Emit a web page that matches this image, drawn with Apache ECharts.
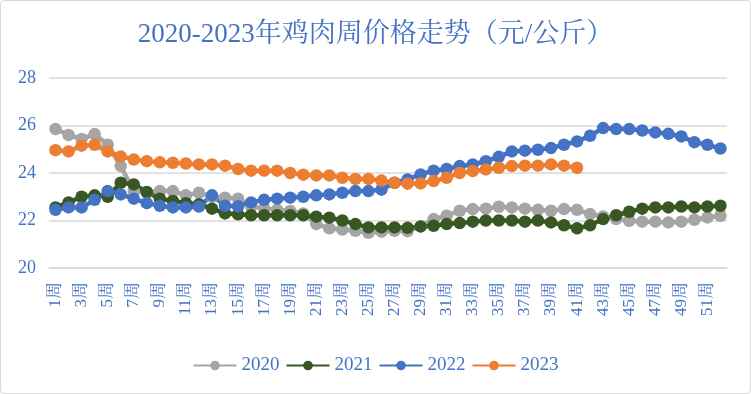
<!DOCTYPE html>
<html><head><meta charset="utf-8">
<script src="https://cdn.jsdelivr.net/npm/echarts@6/dist/echarts.min.js"></script>
<style>html,body{margin:0;padding:0;background:#fff;}#c{width:749px;height:392px;border:1px solid #d9d9d9;border-radius:4px;}</style>
</head><body><div id="c"></div>
<script>
const weeks = [];
for (let i = 1; i <= 52; i++) weeks.push(i + '周');
const yTicks = [20, 22, 24, 26, 28];
const s2020 = [25.85,25.6,25.43,25.64,25.19,24.29,23.24,23.17,23.24,23.24,23.06,23.17,23.0,22.96,22.92,22.6,22.5,22.45,22.4,22.3,21.85,21.67,21.62,21.57,21.48,21.53,21.57,21.55,21.75,22.06,22.2,22.41,22.48,22.5,22.58,22.55,22.5,22.45,22.41,22.48,22.45,22.27,22.17,22.06,21.99,21.95,21.95,21.92,21.95,22.03,22.13,22.2];
const s2021 = [22.55,22.76,23.0,23.06,23.0,23.59,23.52,23.2,22.92,22.82,22.73,22.68,22.5,22.3,22.26,22.22,22.22,22.22,22.22,22.22,22.16,22.12,22.0,21.85,21.71,21.71,21.71,21.69,21.75,21.78,21.85,21.89,21.95,22.0,22.0,22.0,21.95,22.0,21.92,21.8,21.67,21.8,22.06,22.22,22.37,22.5,22.55,22.55,22.59,22.55,22.59,22.62];
const s2022 = [22.45,22.55,22.55,22.87,23.24,23.1,22.92,22.73,22.62,22.55,22.55,22.59,23.06,22.62,22.6,22.76,22.87,22.92,22.96,23.0,23.06,23.1,23.17,23.24,23.24,23.3,23.59,23.73,23.94,24.1,24.17,24.29,24.36,24.5,24.68,24.91,24.94,24.98,25.05,25.19,25.33,25.57,25.89,25.85,25.85,25.79,25.71,25.65,25.54,25.3,25.19,25.03];
const s2023 = [24.96,24.91,25.15,25.19,24.91,24.7,24.57,24.5,24.45,24.43,24.4,24.36,24.36,24.31,24.17,24.1,24.1,24.1,24.0,23.93,23.9,23.9,23.8,23.75,23.75,23.68,23.59,23.55,23.56,23.66,23.8,24.0,24.08,24.15,24.22,24.29,24.31,24.31,24.36,24.31,24.22];
const names = ['2020','2021','2022','2023'];
const colors = ['#A5A5A5','#385723','#4472C4','#ED7D31'];
const dataSets = [s2020, s2021, s2022, s2023];

const chart = echarts.init(document.getElementById('c'), null, {renderer:'canvas'});
const serif = '"Liberation Serif","Noto Serif CJK SC","Noto Sans CJK SC",serif';
chart.setOption({
  animation: false,
  title: {
    text: '2020-2023年鸡肉周价格走势（元/公斤）',
    left: 'center', top: 15,
    textStyle: {color:'#4472C4', fontSize: 27, fontWeight:'normal', fontFamily: serif}
  },
  legend: {
    top: 350, left: 'center',
    itemWidth: 43, itemHeight: 12, itemGap: 6,
    textStyle: {color:'#4472C4', fontSize: 19, fontFamily: serif},
    data: names
  },
  grid: {left: 48, right: 23, top: 77, bottom: 125, containLabel: false},
  xAxis: {
    type: 'category', data: weeks, boundaryGap: true,
    axisLine: {show: true, lineStyle:{color:'#d9d9d9', width:1.5}},
    axisTick: {show: false},
    axisLabel: {interval: 1, rotate: 90, color:'#4472C4', fontSize: 17, fontFamily: serif, margin: 14}
  },
  yAxis: {
    type: 'value', min: yTicks[0], max: yTicks[yTicks.length-1], interval: 2,
    axisLine: {show:false}, axisTick: {show:false},
    axisLabel: {color:'#4472C4', fontSize: 18, fontFamily: serif, margin: 13},
    splitLine: {lineStyle:{color:'#d9d9d9', width:1.5}}
  },
  series: names.map((n, i) => ({
    name: n, type: 'line', data: dataSets[i],
    symbol: 'circle', symbolSize: 12.5, showAllSymbol: true,
    lineStyle: {color: colors[i], width: 4.5},
    itemStyle: {color: colors[i]},
    color: colors[i]
  }))
});
</script></body></html>
